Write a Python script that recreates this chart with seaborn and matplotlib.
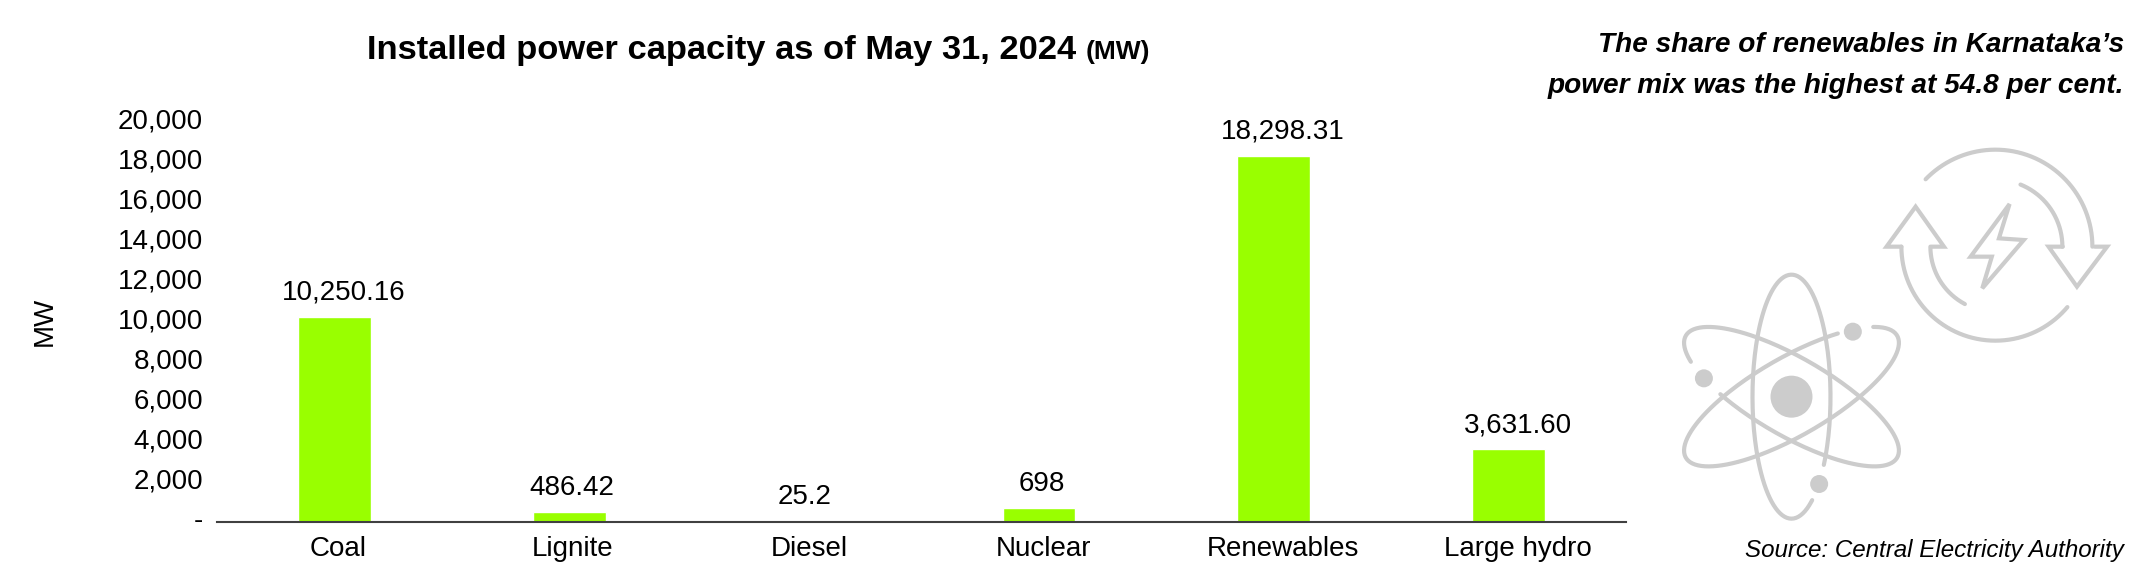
import matplotlib as mpl

mpl.use("Agg")
import matplotlib.pyplot as plt
import numpy as np
import pandas as pd
import seaborn as sns
from matplotlib.patches import Circle, Polygon
from matplotlib.transforms import ScaledTranslation

# Chart values
sources = ["Coal", "Lignite", "Diesel", "Nuclear", "Renewables", "Large hydro"]
capacity = [10250.16, 486.42, 25.2, 698, 18298.31, 3631.60]
value_labels = ["10,250.16", "486.42", "25.2", "698", "18,298.31", "3,631.60"]
y_ticks = [0, 2000, 4000, 6000, 8000, 10000, 12000, 14000, 16000, 18000, 20000]
y_tick_labels = ["-", "2,000", "4,000", "6,000", "8,000", "10,000", "12,000",
                 "14,000", "16,000", "18,000", "20,000"]

W, H = 2155, 580
BAR = "#99FF00"
ICON = "#CCCCCC"

# the labels sit a little right of the bars in the original (pixels)
value_shift = [9, 3, 0, 3, 9, 9]
xlabel_shift = [4, 3, 5, 5, 9, 9]

sns.set_theme(style="white")
plt.rcParams["font.family"] = ["Liberation Sans", "DejaVu Sans"]
plt.rcParams["text.color"] = "black"

df = pd.DataFrame({"Source": sources, "Capacity": capacity})

fig = plt.figure(figsize=(W / 100, H / 100), dpi=100)
ax = fig.add_axes([217 / W, 1 - 522 / H, (1626 - 217) / W, 400 / H])
sns.barplot(data=df, x="Source", y="Capacity", order=sources, color=BAR,
            saturation=1, width=0.31, ax=ax)
ax.set_ylim(0, 20000)
ax.set_xlim(-0.5, 5.5)
ax.set_yticks(y_ticks, y_tick_labels)
ax.tick_params(axis="both", length=0, labelsize=20, colors="black")
ax.tick_params(axis="y", pad=10)
ax.tick_params(axis="x", pad=10)
ax.set_xlabel("")
ax.set_ylabel("")
sns.despine(ax=ax, left=True)
ax.spines["bottom"].set_color("#404040")
ax.spines["bottom"].set_linewidth(1.5)

for lab in ax.get_yticklabels():
    lab.set_transform(lab.get_transform() + ScaledTranslation(0, 4 / 100, fig.dpi_scale_trans))
for lab, dx in zip(ax.get_xticklabels(), xlabel_shift):
    lab.set_transform(lab.get_transform() + ScaledTranslation(dx / 100, 0, fig.dpi_scale_trans))

anns = ax.bar_label(ax.containers[0], labels=value_labels, fontsize=20, padding=8, color="black")
for ann, dx in zip(anns, value_shift):
    ann.xyann = (dx * 0.72, 8)

# Text placed in figure pixels
fig.text(45 / W, 1 - 321 / H, "MW", rotation=90, fontsize=20, ha="center", va="center")
t = fig.text(367 / W, 1 - 59 / H, "Installed power capacity as of May 31, 2024 ",
             fontsize=24.8, fontweight="bold", ha="left", va="baseline")
fig.canvas.draw()
title_end = t.get_window_extent().x1
fig.text(title_end / W, 1 - 59 / H, "(MW)", fontsize=19, fontweight="bold",
         ha="left", va="baseline")
fig.text(2124 / W, 1 - 52 / H, "The share of renewables in Karnataka\u2019s", fontsize=20.2,
         fontweight="bold", fontstyle="italic", ha="right", va="baseline")
fig.text(2124 / W, 1 - 93 / H, "power mix was the highest at 54.8 per cent.", fontsize=20.2,
         fontweight="bold", fontstyle="italic", ha="right", va="baseline")
fig.text(2124 / W, 1 - 557 / H, "Source: Central Electricity Authority", fontsize=17.4,
         fontstyle="italic", ha="right", va="baseline")

# Decorative icons on an overlay in pixel coordinates (y up)
ov = fig.add_axes([0, 0, 1, 1], facecolor="none")
ov.set_xlim(0, W)
ov.set_ylim(0, H)
ov.axis("off")


def ellipse_arc(cx, cy, a, b, rot, t1, t2):
    t = np.radians(np.linspace(t1, t2, 200))
    r = np.radians(rot)
    x = cx + a * np.cos(t) * np.cos(r) - b * np.sin(t) * np.sin(r)
    y = cy + a * np.cos(t) * np.sin(r) + b * np.sin(t) * np.cos(r)
    ov.plot(x, y, color=ICON, lw=3, solid_capstyle="round")


def zoom_pt(zx, zy):
    # positions measured on the icon crop
    return 1600 + zx / 2.82, H - (130 + zy / 3)


# atom
ax0, ay0 = zoom_pt(540, 800)
ellipse_arc(ax0, ay0, 122, 39, 90, 236, 212 + 360)
ellipse_arc(ax0, ay0, 122, 39, 30, 54, 30 + 360)
ellipse_arc(ax0, ay0, 122, 39, 150, 59, 31 + 360)
ov.add_patch(Circle((ax0, ay0), 21, color=ICON, lw=0))
for zx, zy in [(713, 605), (293, 745), (618, 1062)]:
    ov.add_patch(Circle(zoom_pt(zx, zy), 9, color=ICON, lw=0))

# recycling arrows with bolt
rx, ry = zoom_pt(1115, 350)
ellipse_arc(rx, ry, 97, 97, 0, 0, 136)
ellipse_arc(rx, ry, 67, 67, 0, 0, 68)
ellipse_arc(rx, ry, 94, 94, 0, 180, 320)
ellipse_arc(rx, ry, 65, 65, 0, 180, 242)
for pts in ([(850, 350), (808, 350), (890, 230), (970, 350), (935, 350)],
            [(1305, 350), (1265, 350), (1345, 470), (1430, 350), (1395, 350)]):
    xy = np.array([zoom_pt(*p) for p in pts])
    ov.plot(xy[:, 0], xy[:, 1], color=ICON, lw=3, solid_joinstyle="miter")
bolt = [(1155, 222), (1045, 380), (1105, 380), (1078, 475), (1195, 330), (1125, 325)]
ov.add_patch(Polygon([zoom_pt(*p) for p in bolt], closed=True, fill=False,
                     edgecolor=ICON, lw=3))

fig.savefig("out.png", dpi=100)
